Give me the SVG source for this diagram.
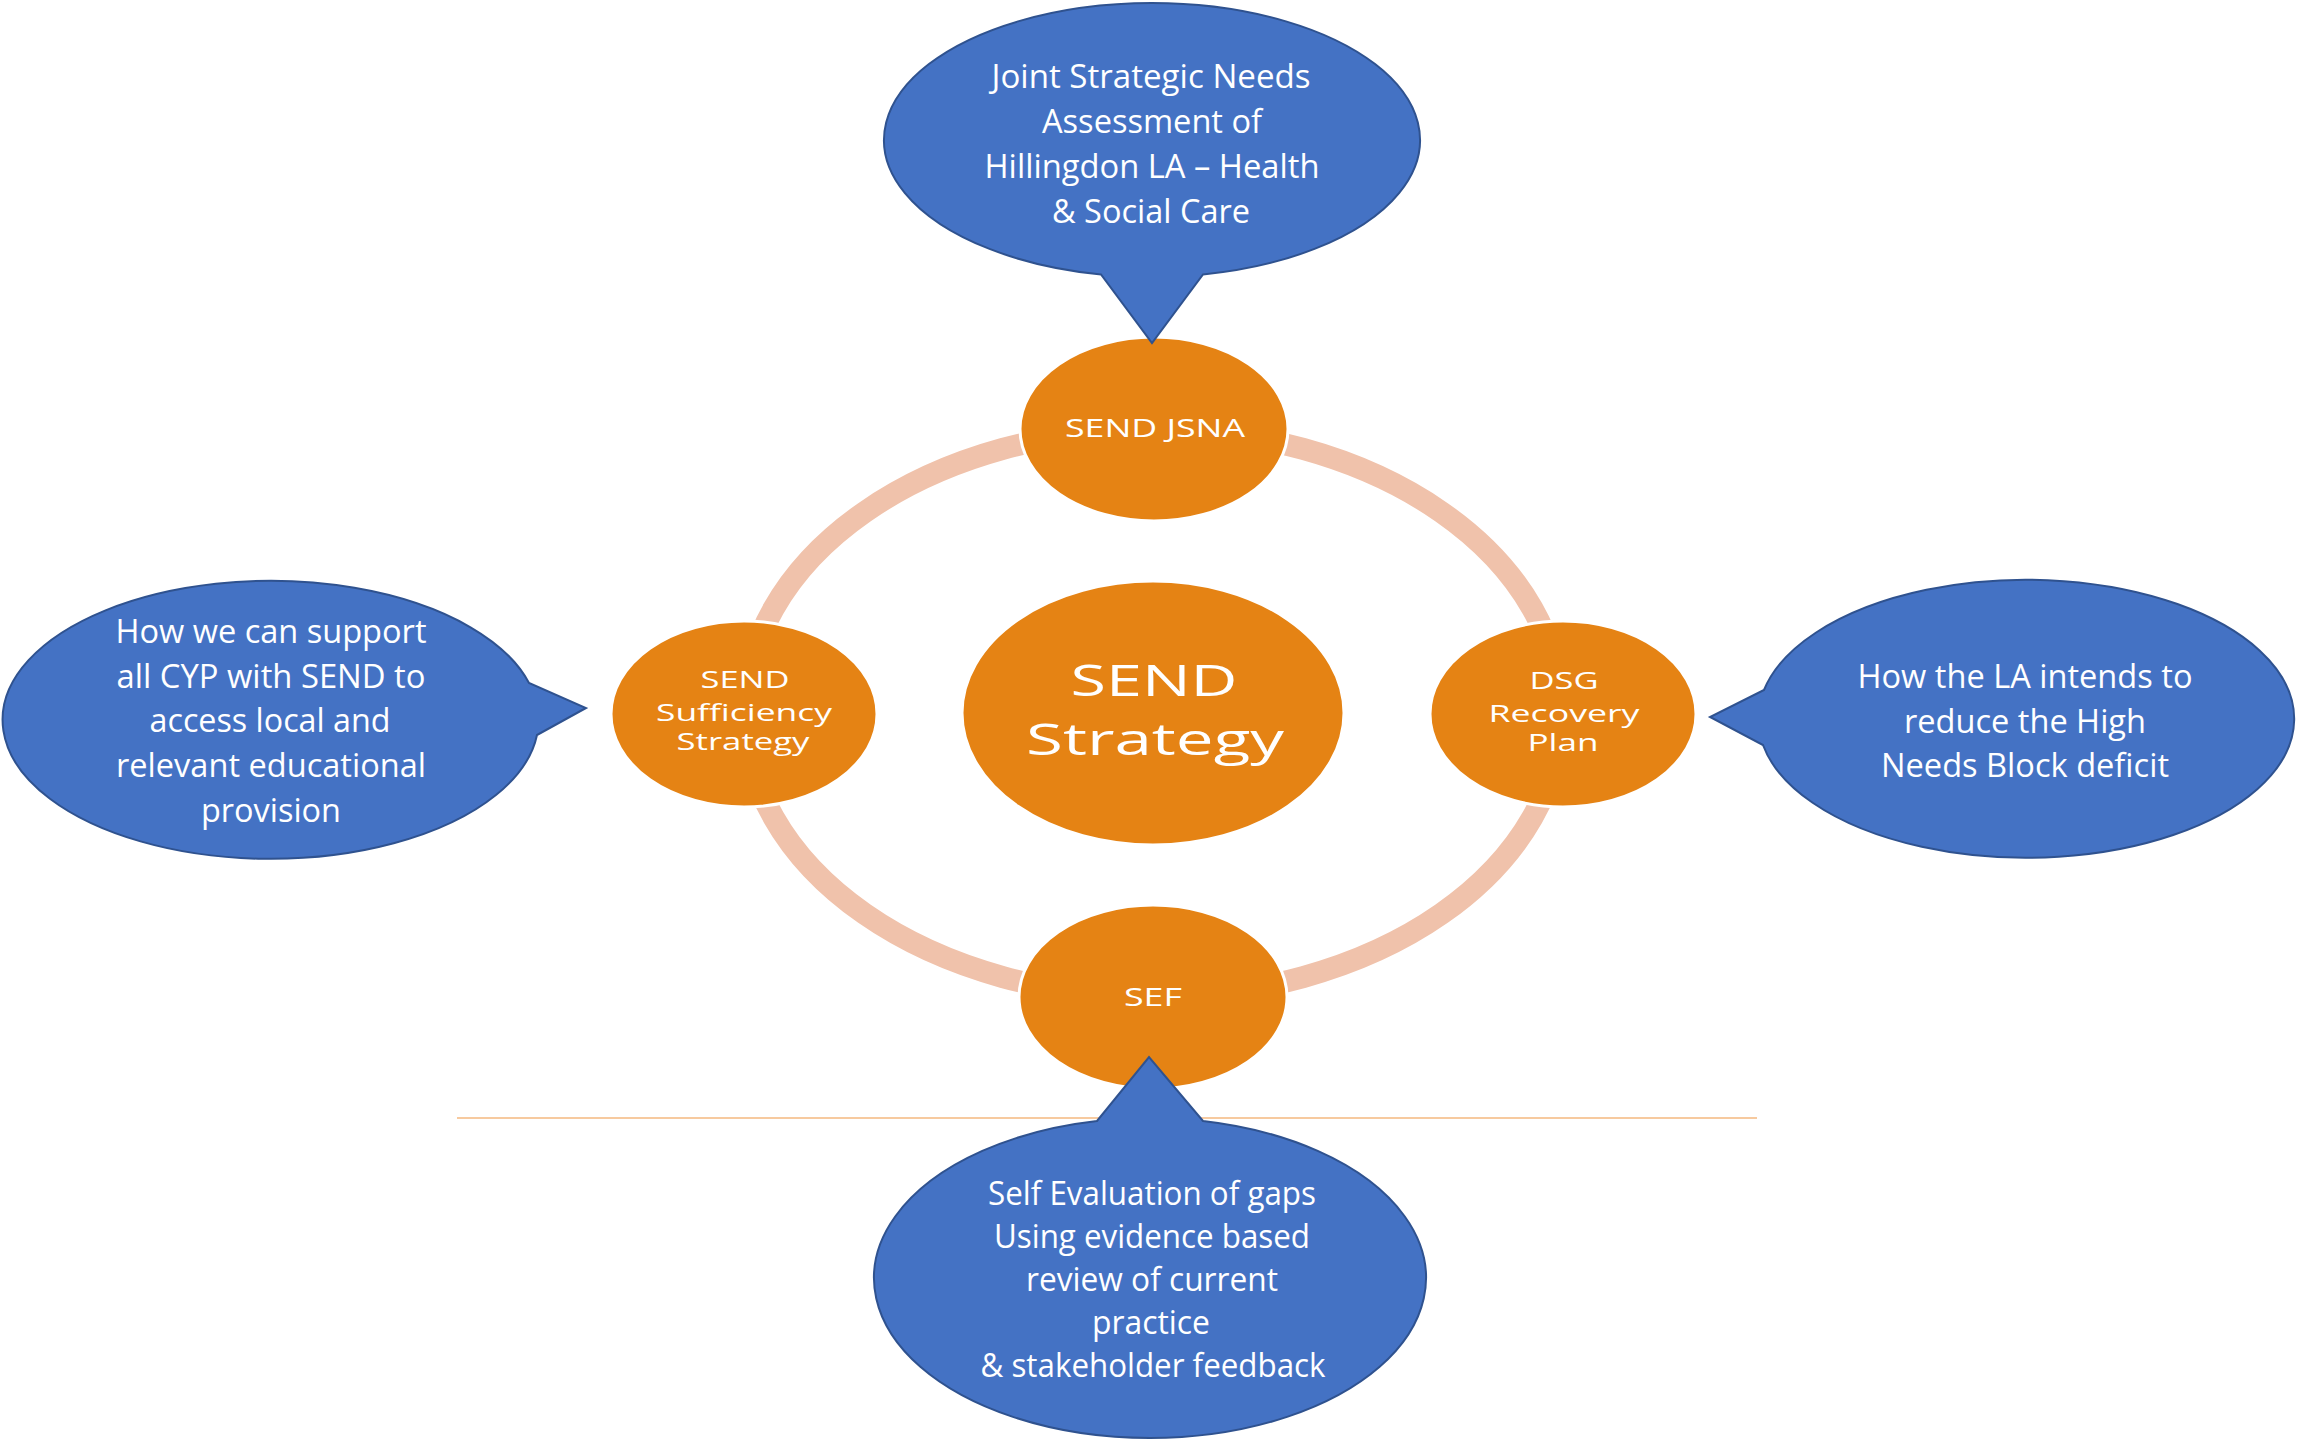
<svg xmlns="http://www.w3.org/2000/svg" width="2297" height="1440" viewBox="0 0 2297 1440">
<style>
.bg{fill:#ffffff}
.ring{fill:none;stroke:#F0C2AB;stroke-width:22}
.node{fill:#E58314;stroke:#ffffff;stroke-width:3}
.callout{fill:#4472C4;stroke:#2F528F;stroke-width:2;stroke-linejoin:miter}
.ct{font-family:"Open Sans","Noto Sans",sans-serif;font-size:33px;fill:#ffffff;text-anchor:middle}
.nt{font-family:"Open Sans","Noto Sans",sans-serif;font-weight:500;fill:#ffffff;text-anchor:middle}
.sep{stroke:#F4B97F;stroke-width:1.5}
</style>
<rect class="bg" x="0" y="0" width="2297" height="1440"/>
<line class="sep" x1="457" y1="1118" x2="1757" y2="1118"/>
<g id="connectors">
  <ellipse class="ring" cx="1153" cy="713" rx="408" ry="284"/>
</g>
<g id="node-center">
  <ellipse class="node" cx="1153" cy="713" rx="191" ry="132"/>
  <text class="nt" font-size="44" x="1154" y="696" textLength="167" lengthAdjust="spacingAndGlyphs">SEND</text>
  <text class="nt" font-size="44" x="1155" y="755" textLength="258" lengthAdjust="spacingAndGlyphs">Strategy</text>
</g>
<g id="node-jsna">
  <ellipse class="node" cx="1154" cy="429" rx="134" ry="92"/>
  <text class="nt" font-size="25" x="1155" y="437" textLength="180" lengthAdjust="spacingAndGlyphs">SEND JSNA</text>
</g>
<g id="node-sufficiency">
  <ellipse class="node" cx="744" cy="714" rx="133" ry="93"/>
  <text class="nt" font-size="23" x="745" y="688" textLength="89" lengthAdjust="spacingAndGlyphs">SEND</text>
  <text class="nt" font-size="23" x="744" y="721" textLength="176" lengthAdjust="spacingAndGlyphs">Sufficiency</text>
  <text class="nt" font-size="23" x="743" y="750" textLength="133" lengthAdjust="spacingAndGlyphs">Strategy</text>
</g>
<g id="node-dsg">
  <ellipse class="node" cx="1563" cy="714" rx="133" ry="93"/>
  <text class="nt" font-size="23" x="1564" y="689" textLength="69" lengthAdjust="spacingAndGlyphs">DSG</text>
  <text class="nt" font-size="23" x="1564" y="722" textLength="151" lengthAdjust="spacingAndGlyphs">Recovery</text>
  <text class="nt" font-size="23" x="1563" y="751" textLength="71" lengthAdjust="spacingAndGlyphs">Plan</text>
</g>
<g id="node-sef">
  <ellipse class="node" cx="1153" cy="997" rx="134" ry="92"/>
  <text class="nt" font-size="25" x="1153" y="1006" textLength="58" lengthAdjust="spacingAndGlyphs">SEF</text>
</g>
<g id="callout-top">
  <path class="callout" d="M 1101,274.5 A 268 137 0 1 1 1203,274.5 L 1152,343 Z"/>
  <text class="ct" x="1151" y="88" textLength="319" lengthAdjust="spacingAndGlyphs">Joint Strategic Needs</text>
  <text class="ct" x="1152" y="133" textLength="220" lengthAdjust="spacingAndGlyphs">Assessment of</text>
  <text class="ct" x="1152" y="178" textLength="335" lengthAdjust="spacingAndGlyphs">Hillingdon LA – Health</text>
  <text class="ct" x="1151" y="223" textLength="198" lengthAdjust="spacingAndGlyphs">&amp; Social Care</text>
</g>
<g id="callout-left">
  <path class="callout" d="M 537,735 A 268 139 0 1 1 529,683 L 586,708 Z"/>
  <text class="ct" x="271" y="643" textLength="311" lengthAdjust="spacingAndGlyphs">How we can support</text>
  <text class="ct" x="271" y="688" textLength="309" lengthAdjust="spacingAndGlyphs">all CYP with SEND to</text>
  <text class="ct" x="270" y="732" textLength="241" lengthAdjust="spacingAndGlyphs">access local and</text>
  <text class="ct" x="271" y="777" textLength="310" lengthAdjust="spacingAndGlyphs">relevant educational</text>
  <text class="ct" x="271" y="822" textLength="140" lengthAdjust="spacingAndGlyphs">provision</text>
</g>
<g id="callout-right">
  <path class="callout" d="M 1764,690 A 268 139 0 1 1 1763,745 L 1710,717 Z"/>
  <text class="ct" x="2025" y="688" textLength="335" lengthAdjust="spacingAndGlyphs">How the LA intends to</text>
  <text class="ct" x="2025" y="733" textLength="242" lengthAdjust="spacingAndGlyphs">reduce the High</text>
  <text class="ct" x="2025" y="777" textLength="288" lengthAdjust="spacingAndGlyphs">Needs Block deficit</text>
</g>
<g id="callout-bottom">
  <path class="callout" d="M 1203,1121 A 276 160 0 1 1 1097,1121 L 1149,1057 Z"/>
  <text class="ct" x="1152" y="1205" textLength="328" lengthAdjust="spacingAndGlyphs">Self Evaluation of gaps</text>
  <text class="ct" x="1152" y="1248" textLength="316" lengthAdjust="spacingAndGlyphs">Using evidence based</text>
  <text class="ct" x="1152" y="1291" textLength="252" lengthAdjust="spacingAndGlyphs">review of current</text>
  <text class="ct" x="1151" y="1334" textLength="118" lengthAdjust="spacingAndGlyphs">practice</text>
  <text class="ct" x="1153" y="1377" textLength="345" lengthAdjust="spacingAndGlyphs">&amp; stakeholder feedback</text>
</g>
</svg>
